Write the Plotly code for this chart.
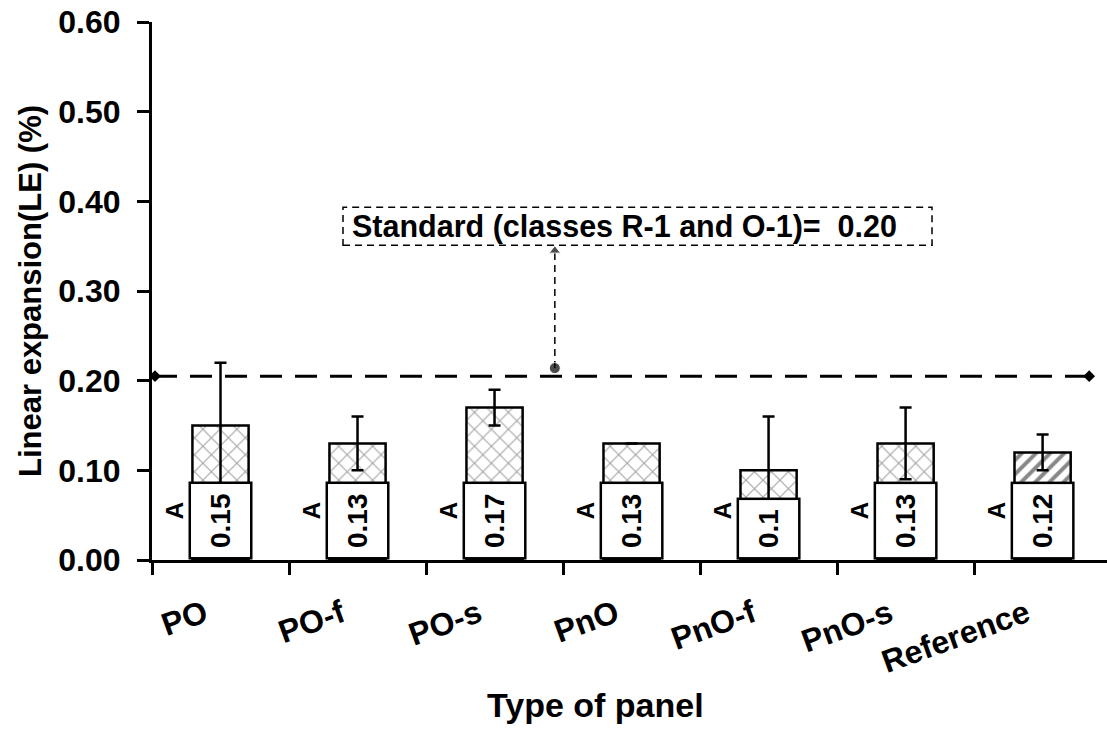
import plotly.graph_objects as go

categories = ["PO", "PO-f", "PO-s", "PnO", "PnO-f", "PnO-s", "Reference"]
le_values = [0.15, 0.13, 0.17, 0.13, 0.10, 0.13, 0.12]
le_errors = [0.07, 0.03, 0.02, 0.0, 0.06, 0.04, 0.02]
group_letters = ["A", "A", "A", "A", "A", "A", "A"]
standard_value = 0.205
standard_label = "Standard (classes R-1 and O-1)=  0.20"
y_ticks = [0.0, 0.1, 0.2, 0.3, 0.4, 0.5, 0.6]

FONT = "Liberation Sans, Arial, sans-serif"
pattern_shapes = ["/" if c == "Reference" else "x" for c in categories]
pattern_fg = ["#111111" if c == "Reference" else "#444444" for c in categories]
pattern_size = [10 if c == "Reference" else 12 for c in categories]
pattern_sol = [0.4 if c == "Reference" else 0.17 for c in categories]

fig = go.Figure()
fig.add_trace(go.Bar(
    x=categories, y=le_values, width=0.41,
    marker=dict(color="white", line=dict(color="black", width=2.5),
                pattern=dict(shape=pattern_shapes, fgcolor=pattern_fg, bgcolor="white",
                             size=pattern_size, solidity=pattern_sol)),
    error_y=dict(type="data", array=le_errors, visible=True, color="black",
                 thickness=2.5, width=6),
    showlegend=False, hoverinfo="skip",
))

# standard line on an overlaid linear axis
fig.add_trace(go.Scatter(
    x=[-0.478, 6.34], y=[standard_value, standard_value], xaxis="x2",
    mode="lines+markers", line=dict(color="black", width=3, dash="22px,13px"),
    marker=dict(symbol="diamond", size=9, color="black"),
    showlegend=False, hoverinfo="skip",
))
# dashed arrow from line to label box
fig.add_trace(go.Scatter(
    x=[2.44, 2.44], y=[0.214, 0.345], xaxis="x2",
    mode="lines+markers", line=dict(color="black", width=1.5, dash="7px,5px"),
    marker=dict(symbol=["circle", "triangle-up"], size=[11, 10], color="black"),
    showlegend=False, hoverinfo="skip",
))

fig.add_shape(type="rect", xref="x2", yref="y", x0=0.894, x1=5.193, y0=0.351, y1=0.3935,
              line=dict(color="black", width=1.5, dash="7px,5px"), fillcolor="rgba(0,0,0,0)")
fig.add_annotation(xref="x2", yref="y", x=0.945, y=0.372, xanchor="left", yanchor="middle",
                   text=standard_label, showarrow=False,
                   font=dict(family=FONT, size=30.5, color="black", weight="bold"))

for c, v, g in zip(categories, le_values, group_letters):
    fig.add_annotation(x=c, y=0, xref="x", yref="y", xanchor="center", yanchor="bottom",
                       text=f"{v:g}", textangle=-90, showarrow=False,
                       font=dict(family=FONT, size=28, color="black", weight="bold"),
                       bgcolor="white", bordercolor="black", borderwidth=2.5,
                       borderpad=9, height=41)
    fig.add_annotation(x=c, y=0.055, xref="x", yref="y", xanchor="center", yanchor="middle",
                       xshift=-46, text=g, textangle=-90, showarrow=False,
                       font=dict(family=FONT, size=24, color="black", weight="bold"))

# axis titles
fig.add_annotation(xref="paper", yref="paper", x=0, y=0.5, xshift=-122, xanchor="center",
                   yanchor="middle", textangle=-90,
                   text="Linear expansion(LE) (%)", showarrow=False,
                   font=dict(family=FONT, size=31, color="black", weight="bold"))
fig.add_annotation(xref="paper", yref="paper", x=0, y=0, xshift=443, yshift=-145,
                   xanchor="center", yanchor="middle",
                   text="Type of panel", showarrow=False,
                   font=dict(family=FONT, size=34, color="black", weight="bold"))

fig.update_layout(
    width=1107, height=747,
    margin=dict(l=152, r=0, t=22, b=187, autoexpand=False),
    plot_bgcolor="white", paper_bgcolor="white",
    font=dict(family=FONT, color="black"),
    xaxis=dict(type="category", categoryorder="array", categoryarray=categories,
               range=[-0.5, 6.47], showline=True, linecolor="black", linewidth=3,
               ticks="outside", tickson="boundaries", ticklen=12, tickwidth=2.5,
               tickcolor="black", tickangle=-20, showgrid=False, zeroline=False,
               ticklabelstandoff=20, ticklabelshift=-16, ticklabeloverflow="allow",
               tickfont=dict(family=FONT, size=32, color="black", weight="bold")),
    xaxis2=dict(overlaying="x", range=[-0.5, 6.47], visible=False),
    yaxis=dict(range=[0, 0.6], tickvals=y_ticks, tickformat=".2f", showline=True,
               linecolor="black", linewidth=3, ticks="outside", ticklen=12, tickwidth=2.5,
               tickcolor="black", showgrid=False, zeroline=False, ticklabelstandoff=10,
               ticklabeloverflow="allow",
               tickfont=dict(family=FONT, size=32, color="black", weight="bold")),
)

fig.write_html("out.html", config={"displayModeBar": False},
               post_script="document.body.style.margin='0';document.body.style.overflow='hidden';")
